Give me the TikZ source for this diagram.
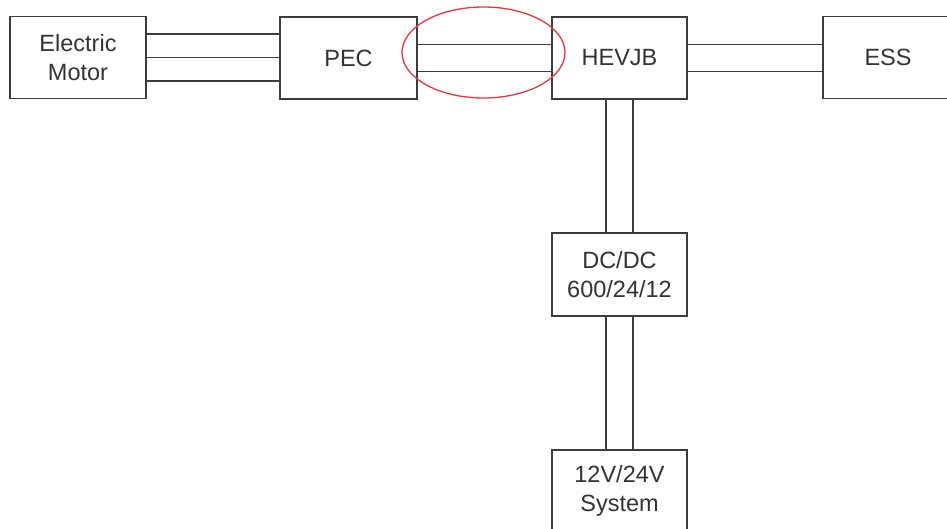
\documentclass[tikz,border=0pt]{standalone}
\usepackage{fontspec}
\setmainfont{Liberation Sans}
\definecolor{boxline}{HTML}{3C3C3C}
\definecolor{txt}{HTML}{333333}
\definecolor{ring}{HTML}{E8383D}
\begin{document}
\begin{tikzpicture}[x=1pt,y=-1pt,
  blk/.style={draw=boxline,line width=1.9pt,fill=white,inner sep=0pt,
    minimum width=136pt,minimum height=82pt,align=center,text=txt,
    font=\fontsize{23.5}{29}\selectfont},
  wire/.style={draw=boxline,line width=1.6pt}]
\useasboundingbox (0,0) rectangle (947,529);
\clip (0,0) rectangle (947,529);
\node[blk] (em) at (78,57.5) {Electric\\Motor};
\node[blk,minimum width=137pt] (pec) at (348.5,58) {PEC};
\node[blk,minimum width=135pt] (hev) at (619.5,58) {HEVJB};
\node[blk,minimum width=130pt] (ess) at (888,57.5) {ESS};
\node[blk,minimum width=135pt,minimum height=83pt] (dc) at (619.5,274.5) {DC/DC\\600/24/12};
\node[blk,minimum width=135pt] (sys) at (619.5,491) {12V/24V\\System};
% Motor - PEC
\draw[wire] ([yshift=23.5pt]em.east) -- ([yshift=23.5pt]em.east -| pec.west);
\draw[wire] (em.east) -- (em.east -| pec.west);
\draw[wire] ([yshift=-23.5pt]em.east) -- ([yshift=-23.5pt]em.east -| pec.west);
% PEC - HEVJB
\draw[wire] ([yshift=13.5pt]pec.east) -- ([yshift=13.5pt]hev.west);
\draw[wire] ([yshift=-13.5pt]pec.east) -- ([yshift=-13.5pt]hev.west);
% HEVJB - ESS
\draw[wire] ([yshift=13.5pt]hev.east) -- ([yshift=13.5pt]hev.east -| ess.west);
\draw[wire] ([yshift=-13.5pt]hev.east) -- ([yshift=-13.5pt]hev.east -| ess.west);
% HEVJB - DC/DC
\draw[wire] ([xshift=-13.5pt]hev.south) -- ([xshift=-13.5pt]dc.north);
\draw[wire] ([xshift=13.5pt]hev.south) -- ([xshift=13.5pt]dc.north);
% DC/DC - System
\draw[wire] ([xshift=-13.5pt]dc.south) -- ([xshift=-13.5pt]sys.north);
\draw[wire] ([xshift=13.5pt]dc.south) -- ([xshift=13.5pt]sys.north);
% highlight ring
\draw[ring,line width=1.3pt] (483.5,52.5) ellipse [x radius=81.5, y radius=45.5];
\end{tikzpicture}
\end{document}
